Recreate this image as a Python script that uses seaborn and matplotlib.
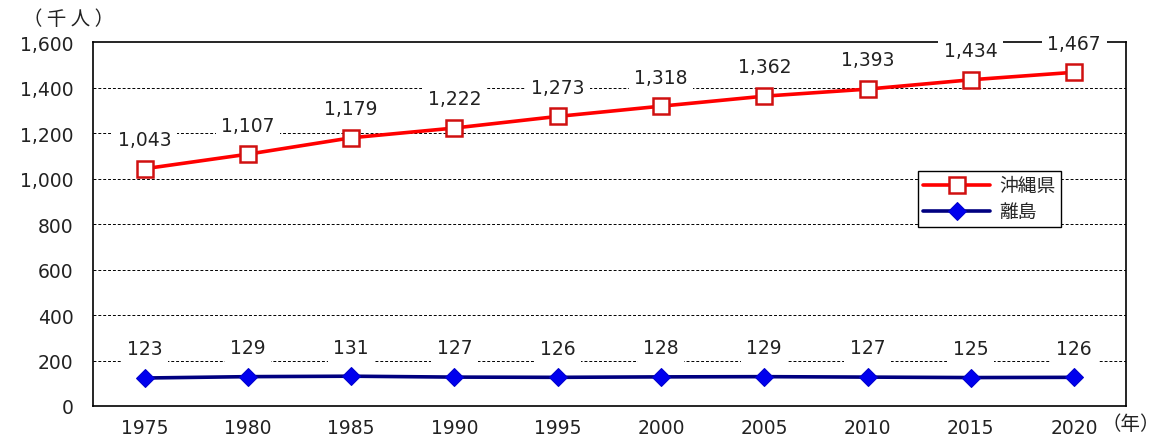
import matplotlib
matplotlib.use('Agg')
import matplotlib.pyplot as plt
import seaborn as sns
import numpy as np
import pandas as pd

years = ['1975', '1980', '1985', '1990', '1995', '2000', '2005', '2010', '2015', '2020']
okinawa = [1043, 1107, 1179, 1222, 1273, 1318, 1362, 1393, 1434, 1467]
ritou = [123, 129, 131, 127, 126, 128, 129, 127, 125, 126]
series_names = ['沖縄県', '離島']
y_ticks = [0, 200, 400, 600, 800, 1000, 1200, 1400, 1600]

sns.set_style('white')
plt.rcParams['font.family'] = ['DejaVu Sans', 'Noto Sans CJK JP']
num_font = dict(family=['DejaVu Sans'], size=13.5)
jp_font = ['Noto Sans CJK JP', 'DejaVu Sans']

pos = np.arange(len(years))
df = pd.DataFrame({'pos': pos, 'okinawa': okinawa, 'ritou': ritou})

fig = plt.figure(figsize=(11.69, 4.39), dpi=100)
ax = fig.add_axes([0.0796, 0.0729, 0.8834, 0.8291])

sns.lineplot(data=df, x='pos', y='okinawa', ax=ax, color='#FF0000', lw=2.6,
             marker='s', markersize=11, markerfacecolor='white',
             markeredgecolor='#D01010', markeredgewidth=1.8,
             label=series_names[0], zorder=4)
sns.lineplot(data=df, x='pos', y='ritou', ax=ax, color='#000080', lw=2.6,
             marker='D', markersize=9, markerfacecolor='#0000EE',
             markeredgecolor='#0000CC', label=series_names[1], zorder=4)

ax.set_xlim(-0.5, len(years) - 0.5)
ax.set_ylim(0, 1600)
ax.set_yticks(y_ticks)
ax.set_yticklabels([f'{v:,}' for v in y_ticks], fontdict=num_font)
ax.set_xticks(pos)
ax.set_xticklabels(years, fontdict=num_font)
ax.set_xticks(np.arange(len(years) + 1) - 0.5, minor=True)
ax.tick_params(axis='x', which='major', length=0, pad=9, colors='#222222')
ax.tick_params(axis='x', which='minor', direction='in', length=6, width=1, color='black')
ax.tick_params(axis='y', length=0, pad=14, colors='#222222')
ax.set_xlabel('')
ax.set_ylabel('')

for y in y_ticks[1:-1]:
    ax.axhline(y, color='black', lw=0.7, ls=(0, (3, 2)), zorder=1)
for s in ax.spines.values():
    s.set_color('black')
    s.set_linewidth(1.2)

box = dict(boxstyle='square,pad=0.3', fc='white', ec='none')
for vals in (okinawa, ritou):
    for x, v in zip(pos, vals):
        ax.annotate(f'{v:,}', (x, v), xytext=(0, 21), textcoords='offset points',
                    ha='center', va='center', color='#222222',
                    bbox=box, zorder=6, annotation_clip=False, **num_font)

leg = ax.legend(loc='upper right', bbox_to_anchor=(0.946, 0.672),
                prop=dict(family=jp_font, size=13.5),
                frameon=True, fancybox=False, edgecolor='black', framealpha=1,
                handlelength=3.6, borderpad=0.25, labelspacing=0.25,
                handletextpad=0.5)
leg.get_frame().set_linewidth(1)
leg.set_zorder(7)

fig.text(0.020, 0.955, '（ 千 人 ）', family=jp_font, fontsize=14, color='#222222', va='center')
fig.text(0.992, 0.032, '（年）', family=jp_font, fontsize=14, color='#222222',
         va='center', ha='right')

fig.savefig('out.png', dpi=100)
